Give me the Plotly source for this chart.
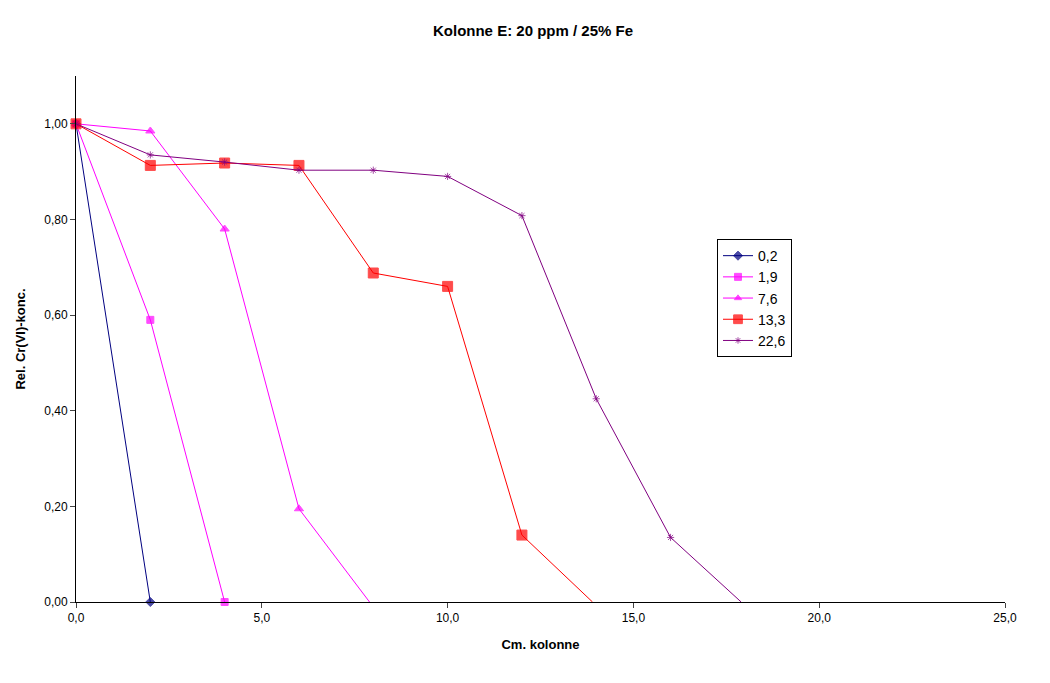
import plotly.graph_objects as go

names = ["0,2", "1,9", "7,6", "13,3", "22,6"]
x_02 = [0, 2]
y_02 = [1.0, 0.0]
x_19 = [0, 2, 4]
y_19 = [1.0, 0.59, 0.0]
x_76 = [0, 2, 4, 6, 7.9]
y_76 = [1.0, 0.985, 0.78, 0.195, 0.0]
x_133 = [0, 2, 4, 6, 8, 10, 12, 13.9]
y_133 = [1.0, 0.913, 0.918, 0.913, 0.688, 0.66, 0.14, 0.0]
x_226 = [0, 2, 4, 6, 8, 10, 12, 14, 16, 17.9]
y_226 = [1.0, 0.935, 0.92, 0.903, 0.903, 0.89, 0.808, 0.425, 0.135, 0.0]

series = [
    (x_02, y_02, "#000080", "diamond", 7, False),
    (x_19, y_19, "#ff00ff", "square", 7, False),
    (x_76, y_76, "#ff00ff", "triangle-up", 8, True),
    (x_133, y_133, "#ff0000", "square", 10, True),
    (x_226, y_226, "#800080", "asterisk-open", 6, True),
]

fig = go.Figure()
for name, (xs, ys, color, sym, size, hide_last) in zip(names, series):
    sizes = [size] * len(xs)
    if hide_last:
        sizes[-1] = 0
    fig.add_trace(go.Scatter(
        x=xs, y=ys, name=name, mode="lines+markers",
        line=dict(color=color, width=1),
        marker=dict(symbol=sym, size=sizes, color=color, line=dict(color=color, width=1)),
        cliponaxis=False,
    ))

fig.update_layout(
    width=1050, height=683,
    paper_bgcolor="white", plot_bgcolor="white",
    margin=dict(l=65, r=53, t=68, b=89),
    font=dict(family="Arial, Liberation Sans", size=12, color="black"),
    title=dict(text="<b>Kolonne E: 20 ppm / 25% Fe</b>", x=0.5, xanchor="center",
               y=0.975, font=dict(size=15)),
    xaxis=dict(range=[0, 25], tickvals=[0, 5, 10, 15, 20, 25],
               ticktext=["0,0", "5,0", "10,0", "15,0", "20,0", "25,0"],
               showline=True, linecolor="black", ticks="outside", ticklen=5,
               showgrid=False, zeroline=False,
               title=dict(text="<b>Cm. kolonne</b>", font=dict(size=13))),
    yaxis=dict(range=[0, 1.1], tickvals=[0, 0.2, 0.4, 0.6, 0.8, 1.0],
               ticktext=["0,00", "0,20", "0,40", "0,60", "0,80", "1,00"],
               showline=True, linecolor="black", ticks="outside", ticklen=5,
               showgrid=False, zeroline=False,
               title=dict(text="<b>Rel. Cr(VI)-konc.</b>", font=dict(size=13))),
    legend=dict(x=0.69, y=0.69, xanchor="left", yanchor="top",
                bordercolor="black", borderwidth=1, bgcolor="white",
                font=dict(size=14), tracegroupgap=0),
)

fig.write_html("out.html")
